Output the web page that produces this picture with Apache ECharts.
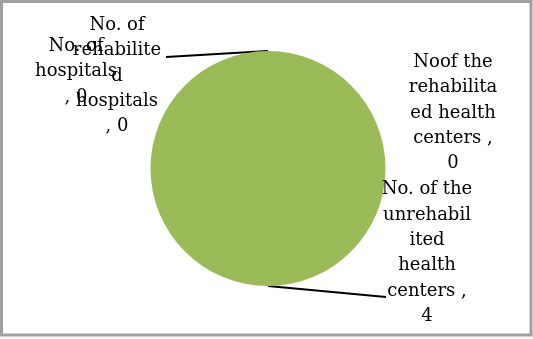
<!DOCTYPE html>
<html>
<head>
<meta charset="utf-8">
<script src="https://cdn.jsdelivr.net/npm/echarts@6/dist/echarts.min.js"></script>
<style>
  html, body { margin: 0; padding: 0; background: #fff; }
  #chart { width: 533px; height: 339px; }
</style>
</head>
<body>
<div id="chart"></div>
<script>
// Category names, wrapped the way the labels are broken onto lines
const categories = [
  'No. of\nhospitals',
  'No. of\nrehabilite\nd\nhospitals',
  'Noof the\nrehabilita\ned health\ncenters',
  'No. of the\nunrehabil\nited\nhealth\ncenters'
];
// Counts per category
const values = [0, 0, 0, 4];
// Text placed between the name and the value in each label
const valueSeparators = ['\n, ', '\n, ', ' ,\n', ' ,\n'];

// Label block centres and leader-line end points (null = no leader line)
const labelCentres = [[76, 71.5], [117, 76], [453, 113], [427, 253]];
const leaderEnds = [null, [166, 57], null, [386, 297]];

const chart = echarts.init(document.getElementById('chart'), null, { renderer: 'canvas' });

const pieData = categories.map((name, i) => ({
  name: name,
  value: values[i],
  labelLine: { show: leaderEnds[i] !== null }
}));

chart.setOption({
  backgroundColor: '#ffffff',
  animation: false,
  color: ['#4F81BD', '#C0504D', '#8064A2', '#9BBB59'],
  graphic: [{
    type: 'rect',
    silent: true,
    z: 100,
    shape: { x: 1.5, y: 1.5, width: 529.5, height: 333.5 },
    style: { fill: 'none', stroke: '#a0a0a0', lineWidth: 3 }
  }],
  series: [{
    type: 'pie',
    center: [268, 168.5],
    radius: 117.5,
    startAngle: 90,
    clockwise: true,
    avoidLabelOverlap: false,
    stillShowZeroSum: true,
    itemStyle: { borderWidth: 0 },
    label: {
      show: true,
      position: 'outside',
      fontFamily: 'DejaVu Serif',
      fontSize: 18,
      lineHeight: 25.4,
      color: '#000000',
      align: 'center',
      formatter: p => p.name + valueSeparators[p.dataIndex] + p.value
    },
    labelLine: {
      show: true,
      lineStyle: { color: '#000000', width: 2 }
    },
    labelLayout: params => {
      const i = params.dataIndex;
      const c = labelCentres[i];
      const out = { x: c[0], y: c[1], align: 'center', verticalAlign: 'middle' };
      const end = leaderEnds[i];
      if (end && params.labelLinePoints) {
        const p0 = params.labelLinePoints[0];
        out.labelLinePoints = [
          [p0[0], p0[1]],
          [(p0[0] + end[0]) / 2, (p0[1] + end[1]) / 2],
          [end[0], end[1]]
        ];
      }
      return out;
    },
    emphasis: { disabled: true },
    data: pieData
  }]
});
</script>
</body>
</html>
